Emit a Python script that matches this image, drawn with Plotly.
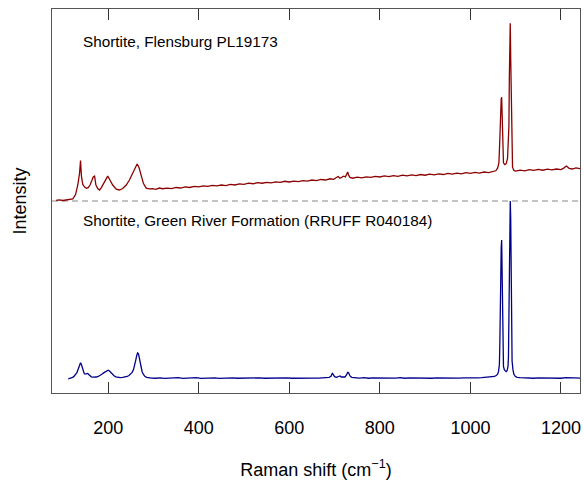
import plotly.graph_objects as go

# Raman shift (cm-1) and normalised intensity
top_shift = [
    85, 92, 100, 108, 115, 122, 128, 133, 137, 139,
    141, 144, 148, 152, 156, 160, 164, 167, 170, 173,
    177, 181, 185, 189, 194, 199, 204, 210, 218, 225,
    232, 240, 247, 254, 260, 264, 268, 273, 278, 284,
    291, 298, 305, 313, 320, 331, 340, 350, 360, 370,
    380, 390, 400, 410, 420, 430, 440, 450, 460, 470,
    480, 490, 500, 510, 520, 530, 540, 550, 560, 570,
    580, 590, 600, 610, 620, 630, 640, 650, 660, 670,
    680, 690, 698, 704, 708, 712, 716, 720, 724, 727,
    729, 731, 734, 740, 750, 760, 770, 780, 790, 800,
    810, 820, 830, 840, 850, 860, 870, 880, 890, 900,
    910, 920, 930, 940, 950, 960, 970, 980, 990, 1000,
    1010, 1020, 1030, 1040, 1050, 1056, 1060, 1063, 1065, 1066,
    1068, 1069, 1070, 1071, 1073, 1076, 1079, 1082, 1084, 1085,
    1086, 1087, 1088, 1089, 1090, 1091, 1093, 1096, 1100, 1110,
    1120, 1130, 1140, 1150, 1160, 1170, 1180, 1190, 1200, 1206,
    1212, 1218, 1225, 1233, 1242,
]
top_int = [
    0.004, 0.006, 0.003, 0.006, 0.008, 0.012, 0.036, 0.09, 0.16, 0.228,
    0.14, 0.093, 0.078, 0.072, 0.075, 0.09, 0.115, 0.135, 0.14, 0.09,
    0.07, 0.062, 0.075, 0.095, 0.118, 0.14, 0.118, 0.09, 0.067, 0.062,
    0.07, 0.09, 0.118, 0.155, 0.19, 0.208, 0.19, 0.146, 0.098, 0.072,
    0.068, 0.07, 0.066, 0.073, 0.069, 0.072, 0.07, 0.076, 0.073, 0.079,
    0.076, 0.082, 0.079, 0.085, 0.082, 0.088, 0.085, 0.09, 0.087, 0.093,
    0.09, 0.096, 0.094, 0.1, 0.097, 0.103, 0.1, 0.105, 0.102, 0.108,
    0.105, 0.111, 0.107, 0.112, 0.109, 0.115, 0.112, 0.118, 0.115, 0.121,
    0.118, 0.125, 0.122, 0.132, 0.138, 0.128, 0.135, 0.14, 0.136, 0.152,
    0.163, 0.145, 0.133, 0.128, 0.134, 0.13, 0.136, 0.133, 0.139, 0.135,
    0.141, 0.137, 0.143, 0.139, 0.145, 0.141, 0.147, 0.143, 0.149, 0.145,
    0.151, 0.147, 0.153, 0.149, 0.155, 0.151, 0.157, 0.153, 0.159, 0.155,
    0.161, 0.157, 0.163, 0.16, 0.166, 0.17, 0.185, 0.215, 0.35, 0.49,
    0.575, 0.584, 0.45, 0.3, 0.215, 0.205, 0.21, 0.24, 0.33, 0.42,
    0.7, 0.95, 1.0, 0.8, 0.6, 0.3, 0.19, 0.172, 0.168, 0.174,
    0.17, 0.176, 0.172, 0.178, 0.173, 0.179, 0.175, 0.18, 0.177, 0.185,
    0.197, 0.184, 0.18, 0.186, 0.182,
]

bot_shift = [
    112, 116, 120, 124, 128, 131, 134, 136, 138, 139,
    141, 143, 145, 147, 149, 151, 153, 155, 157, 160,
    163, 166, 170, 174, 178, 182, 186, 190, 194, 197,
    200, 203, 206, 209, 213, 217, 222, 227, 232, 237,
    242, 246, 250, 253, 256, 259, 261, 263, 265, 267,
    269, 271, 273, 275, 278, 281, 285, 290, 296, 305,
    315, 325, 335, 345, 355, 365, 375, 385, 395, 405,
    415, 425, 435, 445, 455, 465, 475, 485, 495, 505,
    515, 525, 535, 545, 555, 565, 575, 585, 595, 605,
    615, 625, 635, 645, 655, 665, 675, 682, 688, 692,
    695, 697, 700, 704, 708, 712, 715, 719, 723, 726,
    729, 731, 734, 738, 745, 755, 765, 775, 785, 795,
    805, 815, 825, 835, 845, 855, 865, 875, 885, 895,
    905, 915, 925, 935, 945, 955, 965, 975, 985, 995,
    1005, 1015, 1025, 1035, 1042, 1048, 1053, 1057, 1060, 1062,
    1064, 1065, 1066, 1067, 1068, 1069, 1070, 1071, 1072, 1073,
    1075, 1077, 1079, 1081, 1083, 1084, 1085, 1086, 1087, 1088,
    1089, 1090, 1091, 1092, 1094, 1096, 1099, 1103, 1110, 1120,
    1130, 1140, 1150, 1160, 1170, 1180, 1190, 1200, 1210, 1220,
    1230, 1242,
]
bot_int = [
    0.0, 0.002, 0.006, 0.012, 0.022, 0.035, 0.055, 0.072, 0.088, 0.09,
    0.08, 0.06, 0.04, 0.03, 0.026, 0.028, 0.032, 0.03, 0.024, 0.016,
    0.011, 0.009, 0.008, 0.01, 0.013, 0.018, 0.025, 0.033, 0.041, 0.047,
    0.048, 0.044, 0.036, 0.026, 0.017, 0.011, 0.008, 0.007, 0.008, 0.01,
    0.013, 0.018, 0.026, 0.036, 0.052, 0.078, 0.105, 0.13, 0.145, 0.14,
    0.118, 0.088, 0.06, 0.04, 0.024, 0.014, 0.008, 0.005, 0.004, 0.003,
    0.005, 0.002, 0.004, 0.003, 0.006, 0.002, 0.004, 0.003, 0.006, 0.002,
    0.004, 0.003, 0.005, 0.002, 0.004, 0.003, 0.005, 0.003, 0.004, 0.002,
    0.004, 0.003, 0.005, 0.003, 0.004, 0.002, 0.004, 0.003, 0.005, 0.003,
    0.004, 0.003, 0.005, 0.003, 0.004, 0.004, 0.005, 0.006, 0.008, 0.014,
    0.03, 0.025, 0.012, 0.008, 0.01, 0.016, 0.01, 0.008, 0.01, 0.02,
    0.036, 0.034, 0.016, 0.008, 0.005, 0.004, 0.006, 0.003, 0.005, 0.004,
    0.006, 0.003, 0.005, 0.004, 0.006, 0.003, 0.005, 0.004, 0.006, 0.004,
    0.005, 0.003, 0.005, 0.004, 0.006, 0.004, 0.005, 0.004, 0.005, 0.004,
    0.005, 0.005, 0.006, 0.007, 0.008, 0.01, 0.013, 0.018, 0.026, 0.04,
    0.08, 0.2, 0.45, 0.62, 0.74, 0.78, 0.6, 0.3, 0.12, 0.07,
    0.05, 0.042, 0.04, 0.045, 0.07, 0.12, 0.3, 0.6, 0.85, 1.0,
    0.9, 0.5, 0.22, 0.1, 0.05, 0.025, 0.014, 0.008, 0.006, 0.004,
    0.005, 0.003, 0.005, 0.004, 0.006, 0.004, 0.005, 0.003, 0.006, 0.004,
    0.005, 0.004,
]

labels = ["Shortite, Flensburg PL19173",
          "Shortite, Green River Formation (RRUFF R040184)"]
x_ticks = [200, 400, 600, 800, 1000, 1200]

FONT = "Liberation Sans, Arial, sans-serif"

fig = go.Figure()

# top spectrum offset by 1 so the two stack
fig.add_trace(go.Scatter(
    x=top_shift, y=[1 + v for v in top_int], mode="lines",
    line=dict(color="#8B0000", width=1.3), showlegend=False,
))
fig.add_trace(go.Scatter(
    x=bot_shift, y=bot_int, mode="lines",
    line=dict(color="#00008B", width=1.3), showlegend=False,
))

fig.add_hline(y=1, line=dict(color="#888888", width=1.2, dash="6px,4px"), layer="below")

fig.add_annotation(x=141, y=1.9, text=labels[0], showarrow=False,
                   xanchor="left", yanchor="middle",
                   font=dict(family=FONT, size=15.3, color="black"))
fig.add_annotation(x=141, y=0.893, text=labels[1], showarrow=False,
                   xanchor="left", yanchor="middle",
                   font=dict(family=FONT, size=15.3, color="black"))

fig.update_layout(
    width=584, height=480,
    margin=dict(l=52, r=4, t=9, b=87),
    plot_bgcolor="white", paper_bgcolor="white",
    font=dict(family=FONT, size=18, color="black"),
    xaxis=dict(
        range=[76, 1242], tickvals=x_ticks, ticks="inside", ticklen=11,
        tickcolor="#333", tickwidth=1, showline=True, linecolor="#555",
        linewidth=1, mirror="ticks", showgrid=False, zeroline=False,
        tickfont=dict(size=18), ticklabelstandoff=18, automargin=False,
        title=dict(text="Raman shift (cm<sup>−1</sup>)", standoff=26,
                   font=dict(size=18)),
    ),
    yaxis=dict(
        range=[-0.08, 2.08], showticklabels=False, ticks="",
        showline=True, linecolor="#555", linewidth=1, mirror=True,
        showgrid=False, zeroline=False, automargin=False,
        title=dict(text="Intensity", standoff=19, font=dict(size=18)),
    ),
)

# drop the page's default 8px body margin so the figure fills the window
fig.write_html("out.html", config={"displayModeBar": False},
               post_script="document.body.style.margin = '0';")
